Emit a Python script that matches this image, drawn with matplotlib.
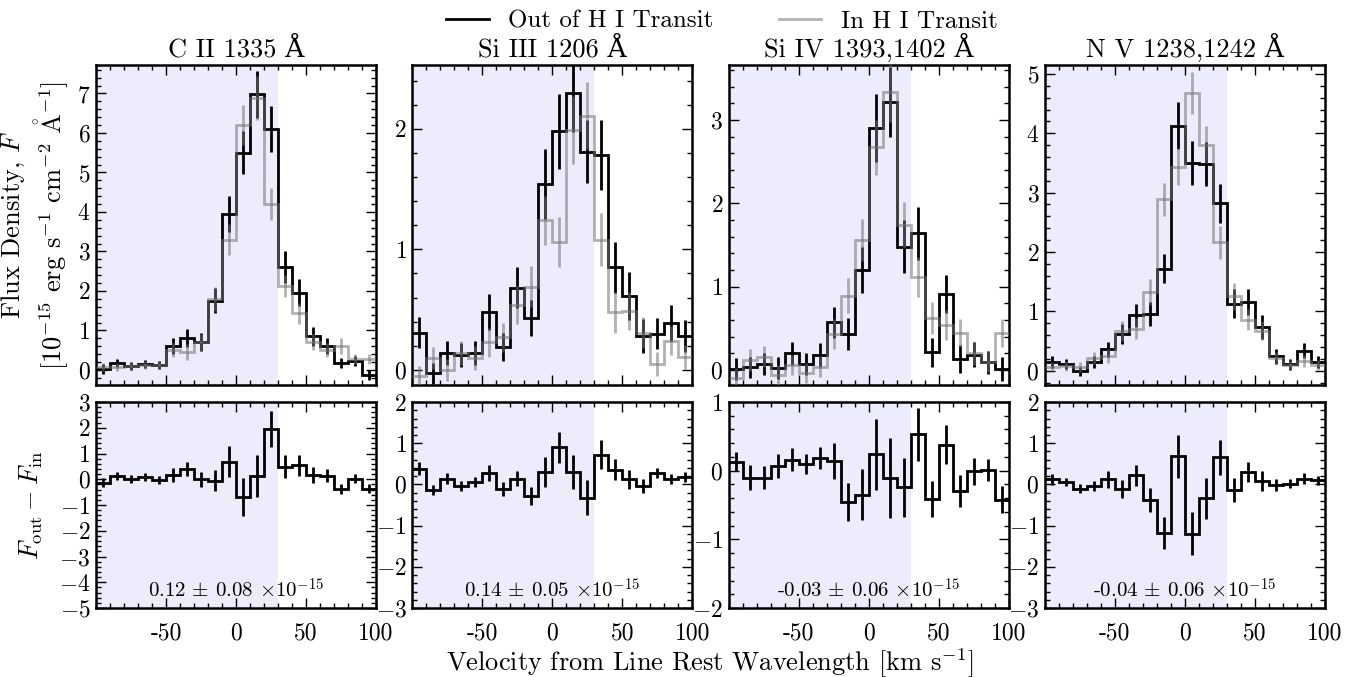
import numpy as np
import matplotlib
matplotlib.use("Agg")
import matplotlib.pyplot as plt
from matplotlib.ticker import MultipleLocator
from matplotlib.lines import Line2D

plt.rcParams['font.family'] = ['cmr10', 'DejaVu Serif']
plt.rcParams['mathtext.fontset'] = 'cm'
plt.rcParams['axes.formatter.use_mathtext'] = True
plt.rcParams['axes.unicode_minus'] = True

# ---------------- data ----------------
velocity = [-95, -85, -75, -65, -55, -45, -35, -25, -15, -5,
            5, 15, 25, 35, 45, 55, 65, 75, 85, 95]
bin_width = 10

titles = ["C II 1335 Å", "Si III 1206 Å", "Si IV 1393,1402 Å", "N V 1238,1242 Å"]

# Out of transit flux (1e-15 erg/s/cm2/A)
cii_out = [0.02, 0.17, 0.10, 0.15, 0.13, 0.60, 0.80, 0.70, 1.75, 3.95,
           5.50, 6.98, 6.10, 2.60, 1.96, 0.85, 0.60, 0.17, 0.23, -0.13]
cii_out_err = [0.12, 0.10, 0.10, 0.10, 0.10, 0.20, 0.23, 0.23, 0.32, 0.45,
               0.55, 0.60, 0.57, 0.40, 0.35, 0.24, 0.20, 0.13, 0.13, 0.13]
cii_in = [0.08, 0.08, 0.10, 0.12, 0.12, 0.50, 0.45, 0.70, 1.80, 3.30,
          6.20, 6.88, 4.20, 2.13, 1.43, 0.70, 0.50, 0.60, 0.27, 0.27]
cii_in_err = [0.10, 0.10, 0.10, 0.10, 0.10, 0.18, 0.20, 0.22, 0.30, 0.40,
              0.50, 0.55, 0.40, 0.28, 0.27, 0.20, 0.18, 0.20, 0.13, 0.13]

siiii_out = [0.31, -0.03, 0.14, 0.12, 0.14, 0.48, 0.19, 0.68, 0.43, 1.54,
             1.98, 2.30, 1.81, 1.78, 0.85, 0.61, 0.28, 0.30, 0.39, 0.28]
siiii_out_err = [0.13, 0.09, 0.10, 0.10, 0.10, 0.15, 0.12, 0.17, 0.15, 0.29,
                 0.31, 0.33, 0.26, 0.29, 0.21, 0.20, 0.14, 0.13, 0.15, 0.13]
siiii_in = [-0.05, 0.10, 0.00, 0.14, 0.10, 0.23, 0.27, 0.54, 0.69, 1.24,
            1.06, 1.99, 2.11, 1.08, 0.48, 0.49, 0.31, 0.05, 0.24, 0.11]
siiii_in_err = [0.08, 0.09, 0.09, 0.10, 0.10, 0.12, 0.12, 0.16, 0.17, 0.20,
                0.21, 0.28, 0.28, 0.22, 0.17, 0.16, 0.13, 0.10, 0.12, 0.10]

siiv_out = [0.01, 0.03, 0.07, 0.02, 0.20, 0.07, 0.18, 0.57, 0.43, 1.20,
            2.90, 3.22, 1.48, 1.64, 0.21, 0.91, 0.13, 0.18, 0.09, 0.01]
siiv_out_err = [0.13, 0.13, 0.13, 0.13, 0.14, 0.13, 0.14, 0.19, 0.19, 0.28,
                0.41, 0.42, 0.32, 0.32, 0.17, 0.23, 0.17, 0.15, 0.14, 0.14]
siiv_in = [-0.10, 0.12, 0.16, -0.06, 0.06, -0.04, 0.04, 0.43, 0.89, 1.56,
           2.67, 3.33, 1.74, 1.12, 0.62, 0.54, 0.44, 0.20, 0.10, 0.44]
siiv_in_err = [0.12, 0.13, 0.13, 0.12, 0.12, 0.12, 0.13, 0.18, 0.21, 0.25,
               0.33, 0.36, 0.28, 0.24, 0.19, 0.18, 0.17, 0.14, 0.13, 0.17]

nv_out = [0.15, 0.11, -0.01, 0.14, 0.36, 0.62, 0.93, 0.95, 1.72, 4.13,
          3.50, 3.48, 2.82, 1.13, 1.15, 0.74, 0.24, 0.11, 0.34, 0.14]
nv_out_err = [0.10, 0.08, 0.08, 0.10, 0.13, 0.17, 0.20, 0.20, 0.24, 0.40,
              0.37, 0.37, 0.33, 0.24, 0.22, 0.20, 0.13, 0.09, 0.13, 0.10]
nv_in = [0.06, 0.08, 0.06, 0.22, 0.25, 0.67, 0.71, 1.32, 2.89, 3.44,
         4.68, 3.81, 2.16, 1.25, 0.86, 0.67, 0.22, 0.10, 0.17, 0.10]
nv_in_err = [0.08, 0.08, 0.08, 0.10, 0.12, 0.17, 0.18, 0.22, 0.28, 0.32,
             0.36, 0.31, 0.28, 0.22, 0.18, 0.16, 0.10, 0.08, 0.10, 0.08]

# Differences F_out - F_in (1e-15)
cii_diff = [-0.13, 0.13, 0.01, 0.10, -0.03, 0.17, 0.39, 0.00, -0.05, 0.68,
            -0.70, 0.13, 1.97, 0.49, 0.55, 0.17, 0.13, -0.39, 0.03, -0.36]
cii_diff_err = [0.17, 0.15, 0.15, 0.15, 0.15, 0.26, 0.27, 0.30, 0.41, 0.60,
                0.74, 0.82, 0.70, 0.45, 0.41, 0.30, 0.25, 0.20, 0.17, 0.17]
siiii_diff = [0.38, -0.14, 0.14, -0.04, 0.06, 0.28, -0.10, 0.14, -0.28, 0.30,
              0.90, 0.30, -0.32, 0.72, 0.36, 0.12, -0.04, 0.28, 0.14, 0.18]
siiii_diff_err = [0.16, 0.12, 0.13, 0.13, 0.13, 0.20, 0.17, 0.18, 0.22, 0.36,
                  0.38, 0.41, 0.42, 0.35, 0.25, 0.22, 0.18, 0.12, 0.12, 0.13]
siiv_diff = [0.13, -0.10, -0.10, 0.07, 0.16, 0.10, 0.18, 0.14, -0.46, -0.35,
             0.24, -0.11, -0.24, 0.53, -0.41, 0.38, -0.30, -0.01, 0.01, -0.42]
siiv_diff_err = [0.14, 0.18, 0.17, 0.18, 0.17, 0.15, 0.16, 0.26, 0.28, 0.37,
                 0.52, 0.58, 0.43, 0.39, 0.26, 0.28, 0.23, 0.20, 0.16, 0.20]
nv_diff = [0.12, 0.06, -0.10, -0.04, 0.12, -0.12, 0.22, -0.37, -1.18, 0.68,
           -1.20, -0.34, 0.66, -0.13, 0.30, 0.08, -0.02, 0.02, 0.14, 0.10]
nv_diff_err = [0.14, 0.10, 0.10, 0.12, 0.20, 0.22, 0.26, 0.29, 0.39, 0.53,
               0.52, 0.49, 0.42, 0.29, 0.25, 0.24, 0.14, 0.10, 0.14, 0.11]

diff_labels = [r"0.12 $\pm$ 0.08 $\times10^{-15}$",
               r"0.14 $\pm$ 0.05 $\times10^{-15}$",
               r"-0.03 $\pm$ 0.06 $\times10^{-15}$",
               r"-0.04 $\pm$ 0.06 $\times10^{-15}$"]

top_ylims = [(-0.38, 7.72), (-0.125, 2.53), (-0.18, 3.66), (-0.24, 5.15)]
bot_ylims = [(-5, 3), (-3, 2), (-2, 1), (-3, 2)]

xtick_vals = [-50, 0, 50, 100]
xtick_labels = ["-50", "0", "50", "100"]
xlim = (-100, 100)
transit_edge = 30

outs = [cii_out, siiii_out, siiv_out, nv_out]
outs_err = [cii_out_err, siiii_out_err, siiv_out_err, nv_out_err]
ins = [cii_in, siiii_in, siiv_in, nv_in]
ins_err = [cii_in_err, siiii_in_err, siiv_in_err, nv_in_err]
diffs = [cii_diff, siiii_diff, siiv_diff, nv_diff]
diffs_err = [cii_diff_err, siiii_diff_err, siiv_diff_err, nv_diff_err]

# ---------------- figure ----------------
W, H = 1357, 677
fig = plt.figure(figsize=(W/100, H/100), dpi=100)
gs = fig.add_gridspec(2, 4, height_ratios=[320, 206],
                      left=96/W, right=1325/W,
                      top=1-65/H, bottom=1-608/H,
                      wspace=0.129, hspace=0.065)

v = np.array(velocity, dtype=float)
edges = np.concatenate([v - bin_width/2, [v[-1] + bin_width/2]])

shade = '#ececfc'
gray = '0.45'
galpha = 0.55
lw = 2.0
fs_tick = 17
fs_label = 19

def style(ax):
    ax.set_xlim(*xlim)
    ax.xaxis.set_minor_locator(MultipleLocator(10))
    ax.yaxis.set_major_locator(MultipleLocator(1))
    ax.yaxis.set_minor_locator(MultipleLocator(0.2))
    ax.tick_params(which='both', direction='in', top=True, right=True,
                   labelsize=fs_tick)
    ax.tick_params(which='major', length=7, width=1.0, pad=4)
    ax.tick_params(which='minor', length=3.5, width=1.0)
    ax.tick_params(axis='x', which='major', pad=10)
    for s in ax.spines.values():
        s.set_linewidth(1.8)
    ax.axvspan(xlim[0], transit_edge, color=shade, lw=0, zorder=0)

for i in range(4):
    ax = fig.add_subplot(gs[0, i])
    style(ax)
    ax.stairs(outs[i], edges, baseline=None, color='k', lw=lw, zorder=3)
    ax.errorbar(velocity, outs[i], yerr=outs_err[i], fmt='none',
                ecolor='k', elinewidth=lw, capsize=0, zorder=3)
    ax.stairs(ins[i], edges, baseline=None, color=gray, alpha=galpha,
              lw=lw, zorder=4)
    ax.errorbar(velocity, ins[i], yerr=ins_err[i], fmt='none',
                ecolor=gray, alpha=galpha, elinewidth=lw, capsize=0, zorder=4)
    ax.set_ylim(*top_ylims[i])
    ax.set_xticks(xtick_vals)
    ax.tick_params(labelbottom=False)
    ax.set_title(titles[i], fontsize=fs_label, pad=6)
    if i == 0:
        ax.set_ylabel("Flux Density, $F$\n"
                      r"[$10^{-15}$ erg s$^{-1}$ cm$^{-2}$ $\mathring{\mathrm{A}}^{-1}$]",
                      fontsize=fs_label, labelpad=4)

    axb = fig.add_subplot(gs[1, i])
    style(axb)
    axb.stairs(diffs[i], edges, baseline=None, color='k', lw=lw, zorder=3)
    axb.errorbar(velocity, diffs[i], yerr=diffs_err[i], fmt='none',
                 ecolor='k', elinewidth=lw, capsize=0, zorder=3)
    axb.set_ylim(*bot_ylims[i])
    axb.set_xticks(xtick_vals)
    axb.set_xticklabels(xtick_labels)
    axb.text(0.5, 0.09, diff_labels[i], transform=axb.transAxes,
             ha='center', va='center', fontsize=15)
    if i == 0:
        axb.set_ylabel(r"$F_{\rm out}-F_{\rm in}$", fontsize=fs_label,
                       labelpad=10)

fig.text(710/W, 1-663/H, "Velocity from Line Rest Wavelength [km s$^{-1}$]",
         ha='center', va='center', fontsize=fs_label)

handles = [Line2D([], [], color='k', lw=lw),
           Line2D([], [], color=gray, alpha=galpha, lw=lw)]
fig.legend(handles, ["Out of H I Transit", "In H I Transit"],
           loc='upper center', bbox_to_anchor=(722/W, 1.018), ncol=2,
           frameon=False, fontsize=18, handlelength=1.7, handletextpad=0.8,
           columnspacing=2.6)

fig.savefig("out.png", dpi=100)
